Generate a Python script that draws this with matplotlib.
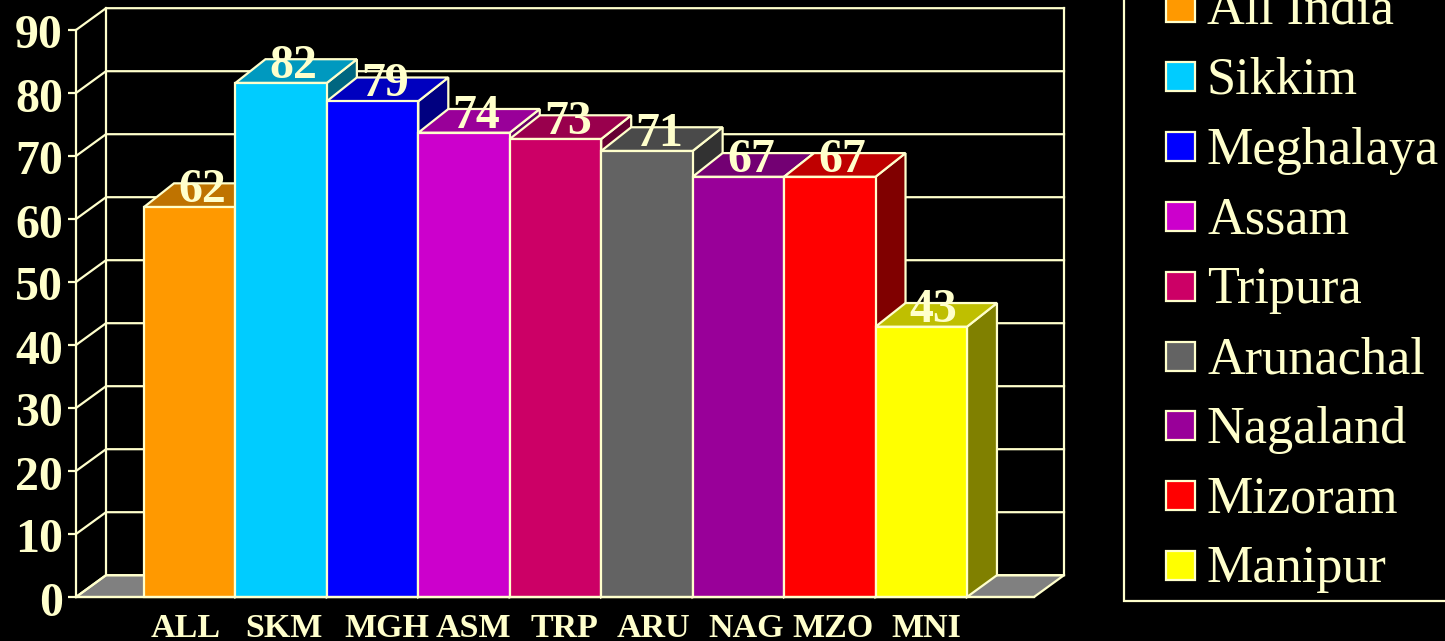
import numpy as np
import matplotlib
matplotlib.use("Agg")
import matplotlib.pyplot as plt
from matplotlib.colors import to_rgb
from matplotlib.patches import Polygon, Rectangle
from matplotlib.transforms import ScaledTranslation

# datos
codes = ["ALL", "SKM", "MGH", "ASM", "TRP", "ARU", "NAG", "MZO", "MNI"]
states = ["All India", "Sikkim", "Meghalaya", "Assam", "Tripura",
          "Arunachal", "Nagaland", "Mizoram", "Manipur"]
values = [61.9, 81.6, 78.7, 73.7, 72.7, 70.8, 66.7, 66.7, 42.9]
value_labels = ["62", "82", "79", "74", "73", "71", "67", "67", "43"]
colors = ["#FF9900", "#00CCFF", "#0000FF", "#CC00CC", "#CC0066",
          "#636363", "#990099", "#FF0000", "#FFFF00"]
y_ticks = list(range(0, 100, 10))

W, H = 1445, 641
INK = "#FFFFCC"
LW = 1.6
plt.rcParams["font.family"] = ["Liberation Serif", "DejaVu Serif"]

fig = plt.figure(figsize=(W / 100, H / 100), dpi=100, facecolor="black")

# plano frontal del grafico, en pixeles de la imagen
left, right, bottom, top = 76, 1034, 597, 30
ax = fig.add_axes([left / W, 1 - bottom / H, (right - left) / W, (bottom - top) / H])
ax.set_facecolor("none")
step = 91.44
first = 189.72
scale = 6.3
ax.set_xlim((left - first) / step, (right - first) / step)
ax.set_ylim(0, (bottom - top) / scale)

# profundidad 3D en unidades de datos
dx = 30 / step
dy = 21.8 / scale
bar_dy = 23.7 / scale
x0, x1 = ax.get_xlim()

# suelo y paredes
ax.add_patch(Polygon([(x0, 0), (x0 + dx, dy), (x1 + dx, dy), (x1, 0)], closed=True,
                     facecolor="#808080", edgecolor=INK, lw=LW, clip_on=False, zorder=1))
for t in y_ticks:
    ax.plot([x0, x0 + dx, x1 + dx], [t, t + dy, t + dy], color=INK, lw=LW,
            clip_on=False, zorder=2, solid_joinstyle="miter")
for xv in [x0 + dx, x1 + dx]:
    ax.plot([xv, xv], [dy, 90 + dy], color=INK, lw=LW, clip_on=False, zorder=2)

# barras, de izquierda a derecha para que cada una tape el lateral anterior
w = 1.0
for i, (v, c) in enumerate(zip(values, colors)):
    rgb = np.array(to_rgb(c))
    a, b = i - w / 2, i + w / 2
    z = 3 + i
    ax.add_patch(Polygon([(b, 0), (b + dx, dy), (b + dx, v + bar_dy), (b, v)], closed=True,
                         facecolor=rgb * 0.5, edgecolor=INK, lw=LW, clip_on=False, zorder=z))
    ax.add_patch(Polygon([(a, v), (a + dx, v + bar_dy), (b + dx, v + bar_dy), (b, v)], closed=True,
                         facecolor=rgb * 0.75, edgecolor=INK, lw=LW, clip_on=False, zorder=z))
    ax.bar(i, v, width=w, color=c, edgecolor=INK, lw=LW, zorder=z, clip_on=False)

# etiquetas de valor
for i, (v, s) in enumerate(zip(values, value_labels)):
    ax.annotate(s, xy=(i, v), xytext=(12.5, 5), textcoords="offset pixels",
                ha="center", va="baseline", color=INK, fontsize=34.5, fontweight="bold",
                zorder=20, annotation_clip=False)

# ejes
ax.set_yticks(y_ticks)
ax.set_yticklabels([str(t) for t in y_ticks], fontsize=34.5, fontweight="bold", color=INK)
ax.tick_params(axis="y", length=5.8, width=LW, color=INK, pad=3.6)
nudge = ScaledTranslation(0, -1.5 / 100, fig.dpi_scale_trans)
for lab in ax.get_yticklabels():
    lab.set_transform(lab.get_transform() + nudge)
ax.set_xticks([])
for s in ["top", "right"]:
    ax.spines[s].set_visible(False)
for s in ["left", "bottom"]:
    ax.spines[s].set_color(INK)
    ax.spines[s].set_linewidth(LW)
    ax.spines[s].set_zorder(15)

label_shift = [-3.7, 3, 14, 9.5, 9, 6.5, 7.5, 3.5, 5]
for i, code in enumerate(codes):
    ax.annotate(code, xy=(i, 0), xytext=(label_shift[i], -40), textcoords="offset pixels",
                ha="center", va="baseline", color=INK, fontsize=24.5, fontweight="bold",
                annotation_clip=False)

# leyenda, en pixeles
lg = fig.add_axes([0, 0, 1, 1])
lg.set_xlim(0, W)
lg.set_ylim(H, 0)
lg.axis("off")
lg.add_patch(Rectangle((1124, -10), W + 20 - 1124, 611, facecolor="none", edgecolor=INK, lw=LW))
for i, (name, c) in enumerate(zip(states, colors)):
    yc = 7 + 69.8 * i
    lg.add_patch(Rectangle((1166, yc - 14.5), 29, 29, facecolor=c, edgecolor=INK, lw=LW))
    lg.text(1207, yc + 17, name, color=INK, fontsize=37.6, va="baseline", ha="left")

fig.savefig("out.png", dpi=100, facecolor="black")
